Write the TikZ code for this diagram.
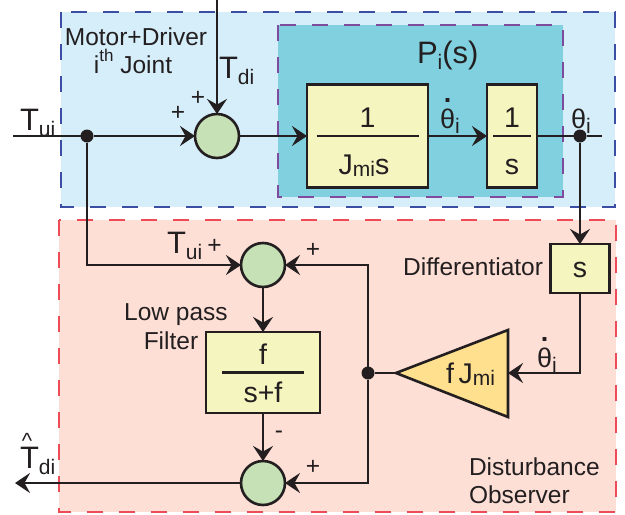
\documentclass[tikz,border=0pt]{standalone}
\usepackage{fontspec}
\setmainfont{Liberation Sans}
\usetikzlibrary{arrows.meta}
\definecolor{outerblue}{HTML}{D5EEF9}
\definecolor{innerteal}{HTML}{80D0E0}
\definecolor{redfill}{HTML}{FDDFD6}
\definecolor{blockfill}{HTML}{F5F5BF}
\definecolor{trifill}{HTML}{FEE08E}
\definecolor{sumfill}{HTML}{C6E1B6}
\definecolor{bluedash}{HTML}{3A4FA3}
\definecolor{purpledash}{HTML}{7F4B9F}
\definecolor{reddash}{HTML}{EE4B58}
\definecolor{txt}{HTML}{231F20}
\newcommand\fL{\fontsize{24.5}{28}\selectfont}
\newcommand\fM{\fontsize{31}{35}\selectfont}
\newcommand\fB{\fontsize{28.5}{32}\selectfont}
\newcommand\fT{\fontsize{27}{30}\selectfont}
\newcommand\sbs[1]{\raisebox{-0.2em}{\fontsize{21}{21}\selectfont #1}}
\newcommand\sbt[1]{\raisebox{-0.1em}{\fontsize{21}{21}\selectfont #1}}
\newcommand\thdot{\ooalign{θ\cr\hidewidth\raisebox{0.96em}{\textbf{.}}\hidewidth\cr}}
\begin{document}
\begin{tikzpicture}[x=1pt,y=-1pt,
  every node/.style={text=txt, inner sep=0pt, outer sep=0pt},
  wire/.style={draw=txt, line width=2.6pt},
  arr/.style={wire, -{Stealth[length=15pt,width=20pt,inset=5.5pt]}},
  blk/.style 2 args={draw=txt, fill=blockfill, line width=2.6pt, minimum width=#1, minimum height=#2},
  sumc/.style={circle, draw=txt, fill=sumfill, line width=2.6pt, minimum size=44pt},
  jdot/.style={circle, fill=txt, minimum size=13pt},
  frule/.style={draw=txt, line width=2.6pt},
  region/.style={line width=1.3pt, dash pattern=on 16pt off 16pt}
  ]
\useasboundingbox (0,0) rectangle (625,515);
% regions
\path[region, fill=outerblue, draw=bluedash] (61,12) rectangle (615,207);
\path[region, fill=innerteal, draw=purpledash] (278,25) rectangle (563,197);
\path[region, fill=redfill, draw=reddash] (59,220) rectangle (616,512);

% blocks
\node[sumc] (sum1) at (217,136) {};
\node[blk={121pt}{103pt}] (b1) at (367.5,136) {};
\node[blk={50pt}{103pt}] (b2) at (512,136) {};
\node[jdot] (dout) at (580,136) {};
\node[jdot] (din) at (87,136) {};
\coordinate (tin) at (13,136);
\coordinate (tend) at (602,136);
\coordinate (ttop) at (217,0);
\node[blk={59pt}{49pt}] (diff) at (580,268.5) {};
\node[sumc] (sum2) at (263,265) {};
\node[blk={114pt}{81pt}] (lpf) at (263,372.5) {};
\node[sumc] (sum3) at (263,483) {};
\coordinate (tout) at (15,483);
\coordinate (triL) at (396,373);
\coordinate (triR) at (508,373);
\coordinate (triT) at (508,330);
\coordinate (triB) at (508,417);
\coordinate (dcorner) at (580,373);
\path[draw=txt, fill=trifill, line width=2.6pt, line join=miter] (triL) -- (triT) -- (triB) -- cycle;
\node[jdot] (dtri) at (368,373) {};

% block contents
\node[font=\fB, anchor=base] (b1num) at (367.5,127) {1};
\node[font=\fB, anchor=base] (b1den) at (364,174) {J\sbt{mi}s};
\path[frule] ([xshift=-51pt]b1.center) -- ([xshift=51pt]b1.center);
\node[font=\fB, anchor=base] (b2num) at (512,127) {1};
\node[font=\fB, anchor=base] (b2den) at (512,174) {s};
\path[frule] ([xshift=-19pt]b2.center) -- ([xshift=19pt]b2.center);
\node[font=\fB, anchor=base] (dtxt) at (580,277) {s};
\node[font=\fB, anchor=base] (lnum) at (263,364) {f};
\node[font=\fB, anchor=base] (lden) at (263,402) {s+f};
\path[frule] ([xshift=-41pt]lpf.center) -- ([xshift=41pt]lpf.center);
\node[font=\fB, anchor=base west] (gain) at (446,383) {f\,J\sbt{mi}};

% connectors
\draw[arr] (tin) -- (din) -- (sum1);
\draw[arr] (ttop) -- (sum1);
\draw[arr] (sum1) -- (b1);
\draw[arr] (b1) -- (b2);
\draw[wire] (b2) -- (dout) -- (tend);
\draw[arr] (dout) -- (diff);
\draw[arr] (diff) -- (dcorner) -- (triR);
\draw[wire] (triL) -- (dtri);
\draw[arr] (dtri) |- (sum2);
\draw[arr] (dtri) |- (sum3);
\draw[arr] (din) |- (sum2);
\draw[arr] (sum2) -- (lpf);
\draw[arr] (lpf) -- (sum3);
\draw[arr] (sum3) -- (tout);

% labels
\node[font=\fL, anchor=base] (l1) at (136,45) {Motor+Driver};
\node[font=\fL, anchor=base] (l2) at (133,73) {i\raisebox{0.45em}{\fontsize{17}{17}\selectfont th} Joint};
\node[font=\fM, anchor=base west] (ltui) at (20,130) {T\sbs{ui}};
\node[font=\fM, anchor=base west] (ltdi) at (219,78) {T\sbs{di}};
\node[font=\fL] (p1) at (198,98) {+};
\node[font=\fL] (p2) at (178,113) {+};
\node[font=\fM, anchor=base west] (lps) at (417,63) {P\sbs{i}(s)};
\node[font=\fT, anchor=base west] (lthd) at (440,128) {\thdot\sbs{i}};
\node[font=\fT, anchor=base west] (lth) at (571,128) {θ\sbs{i}};
\node[font=\fT, anchor=base west] (lthd2) at (537,367) {\thdot\sbs{i}};
\node[font=\fL, anchor=base east] (ldiff) at (543,275) {Differentiator};
\node[font=\fL, anchor=base] (llp1) at (176,320) {Low pass};
\node[font=\fL, anchor=base] (llp2) at (171,349) {Filter};
\node[font=\fM, anchor=base west] (ltui2) at (167,253) {T\sbs{ui}\,\fL +};
\node[font=\fL] (p3) at (313,250) {+};
\node[font=\fL] (p4) at (313,467) {+};
\node[font=\fL] (m1) at (279,435) {-};
\node[font=\fM, anchor=base west] (lthat) at (20,468) {T\sbs{di}};
\node[font=\fontsize{22}{22}\selectfont] (hat) at (27,440) {\raisebox{0pt}[16pt][-7pt]{\textasciicircum}};
\node[font=\fL, anchor=base west] (ld1) at (469,475) {Disturbance};
\node[font=\fL, anchor=base west] (ld2) at (469,503) {Observer};
\end{tikzpicture}
\end{document}
